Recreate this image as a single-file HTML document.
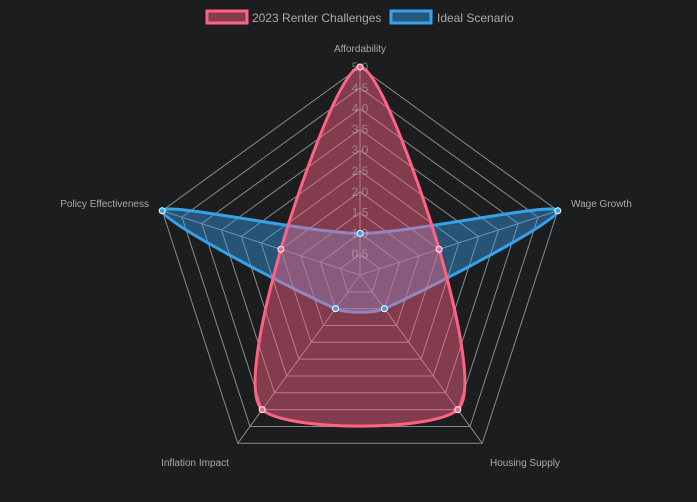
<!DOCTYPE html>
<html><head><meta charset="utf-8"><style>
html,body{margin:0;padding:0;background:#1c1d1f;width:697px;height:502px;overflow:hidden}
svg{display:block;font-family:"Liberation Sans",sans-serif}
</style></head><body>
<svg id="s" width="697" height="502" xmlns="http://www.w3.org/2000/svg">
<rect width="697" height="502" fill="#1c1d1f"/>
<g id="grid"></g>
<g id="data"></g>
<g id="ticks" font-size="12" fill="rgba(200,200,200,0.5)" text-anchor="middle"></g>
<g font-size="10" fill="#aaaaaa">
<text x="360" y="52" text-anchor="middle">Affordability</text>
<text x="571" y="207">Wage Growth</text>
<text x="525" y="466" text-anchor="middle">Housing Supply</text>
<text x="195" y="466" text-anchor="middle">Inflation Impact</text>
<text x="149" y="207" text-anchor="end">Policy Effectiveness</text>
</g>
<g font-size="12" fill="#aaaaaa">
<rect x="207" y="11" width="40" height="12" fill="rgba(255,99,132,0.45)" stroke="#ff6384" stroke-width="3"/>
<text x="252" y="22">2023 Renter Challenges</text>
<rect x="391" y="11" width="40" height="12" fill="rgba(54,162,235,0.45)" stroke="#36a2eb" stroke-width="3"/>
<text x="437" y="22">Ideal Scenario</text>
</g>
</svg>
<script>
var cx=360,cy=275,R=208,ns="http://www.w3.org/2000/svg";
function pt(i,v){var a=-Math.PI/2+i*2*Math.PI/5;var r=R*v/5;return [cx+r*Math.cos(a),cy+r*Math.sin(a)];}
function el(t,at,p){var e=document.createElementNS(ns,t);for(var k in at)e.setAttribute(k,at[k]);p.appendChild(e);return e;}
var g=document.getElementById('grid');
for(var i=0;i<5;i++){var p=pt(i,5);el('line',{x1:cx,y1:cy,x2:p[0],y2:p[1],stroke:'#8a8a8a','stroke-width':1},g);}
for(var k=1;k<=10;k++){var s=[];for(var i=0;i<5;i++){s.push(pt(i,k*0.5).join(','));}
el('polygon',{points:s.join(' '),fill:'none',stroke:'#8a8a8a','stroke-width':1},g);}
var t=document.getElementById('ticks');
for(var k=1;k<=10;k++){var e=el('text',{x:cx,y:cy-R*k*0.1+4},t);e.textContent=(k*0.5).toFixed(1);}
function path(vals,ten){var P=vals.map(function(v,i){return pt(i,v);});var n=P.length,cp=[];
for(var i=0;i<n;i++){var a=P[(i-1+n)%n],b=P[i],c=P[(i+1)%n];
var d01=Math.hypot(b[0]-a[0],b[1]-a[1]),d12=Math.hypot(c[0]-b[0],c[1]-b[1]);
var s01=d01/(d01+d12),s12=d12/(d01+d12),fa=ten*s01,fb=ten*s12;
cp.push({p:[b[0]-fa*(c[0]-a[0]),b[1]-fa*(c[1]-a[1])],n:[b[0]+fb*(c[0]-a[0]),b[1]+fb*(c[1]-a[1])]});}
var d='M'+P[0].join(',');for(var i=0;i<n;i++){var j=(i+1)%n;d+=' C'+cp[i].n.join(',')+' '+cp[j].p.join(',')+' '+P[j].join(',');}
return {d:d+'Z',P:P};}
var D=document.getElementById('data');
var sets=[{v:[1,5,1,1,5],c:'#36a2eb',f:'rgba(54,162,235,0.42)'},{v:[5,2,4,4,2],c:'#ff6384',f:'rgba(255,99,132,0.45)'}];
sets.forEach(function(s){var r=path(s.v,0.25);el('path',{d:r.d,fill:s.f,stroke:s.c,'stroke-width':3},D);s.P=r.P;});
sets.forEach(function(s){s.P.forEach(function(p){el('circle',{cx:p[0],cy:p[1],r:3,fill:s.c,stroke:'#fff','stroke-width':1},D);});});
</script>
</body></html>
